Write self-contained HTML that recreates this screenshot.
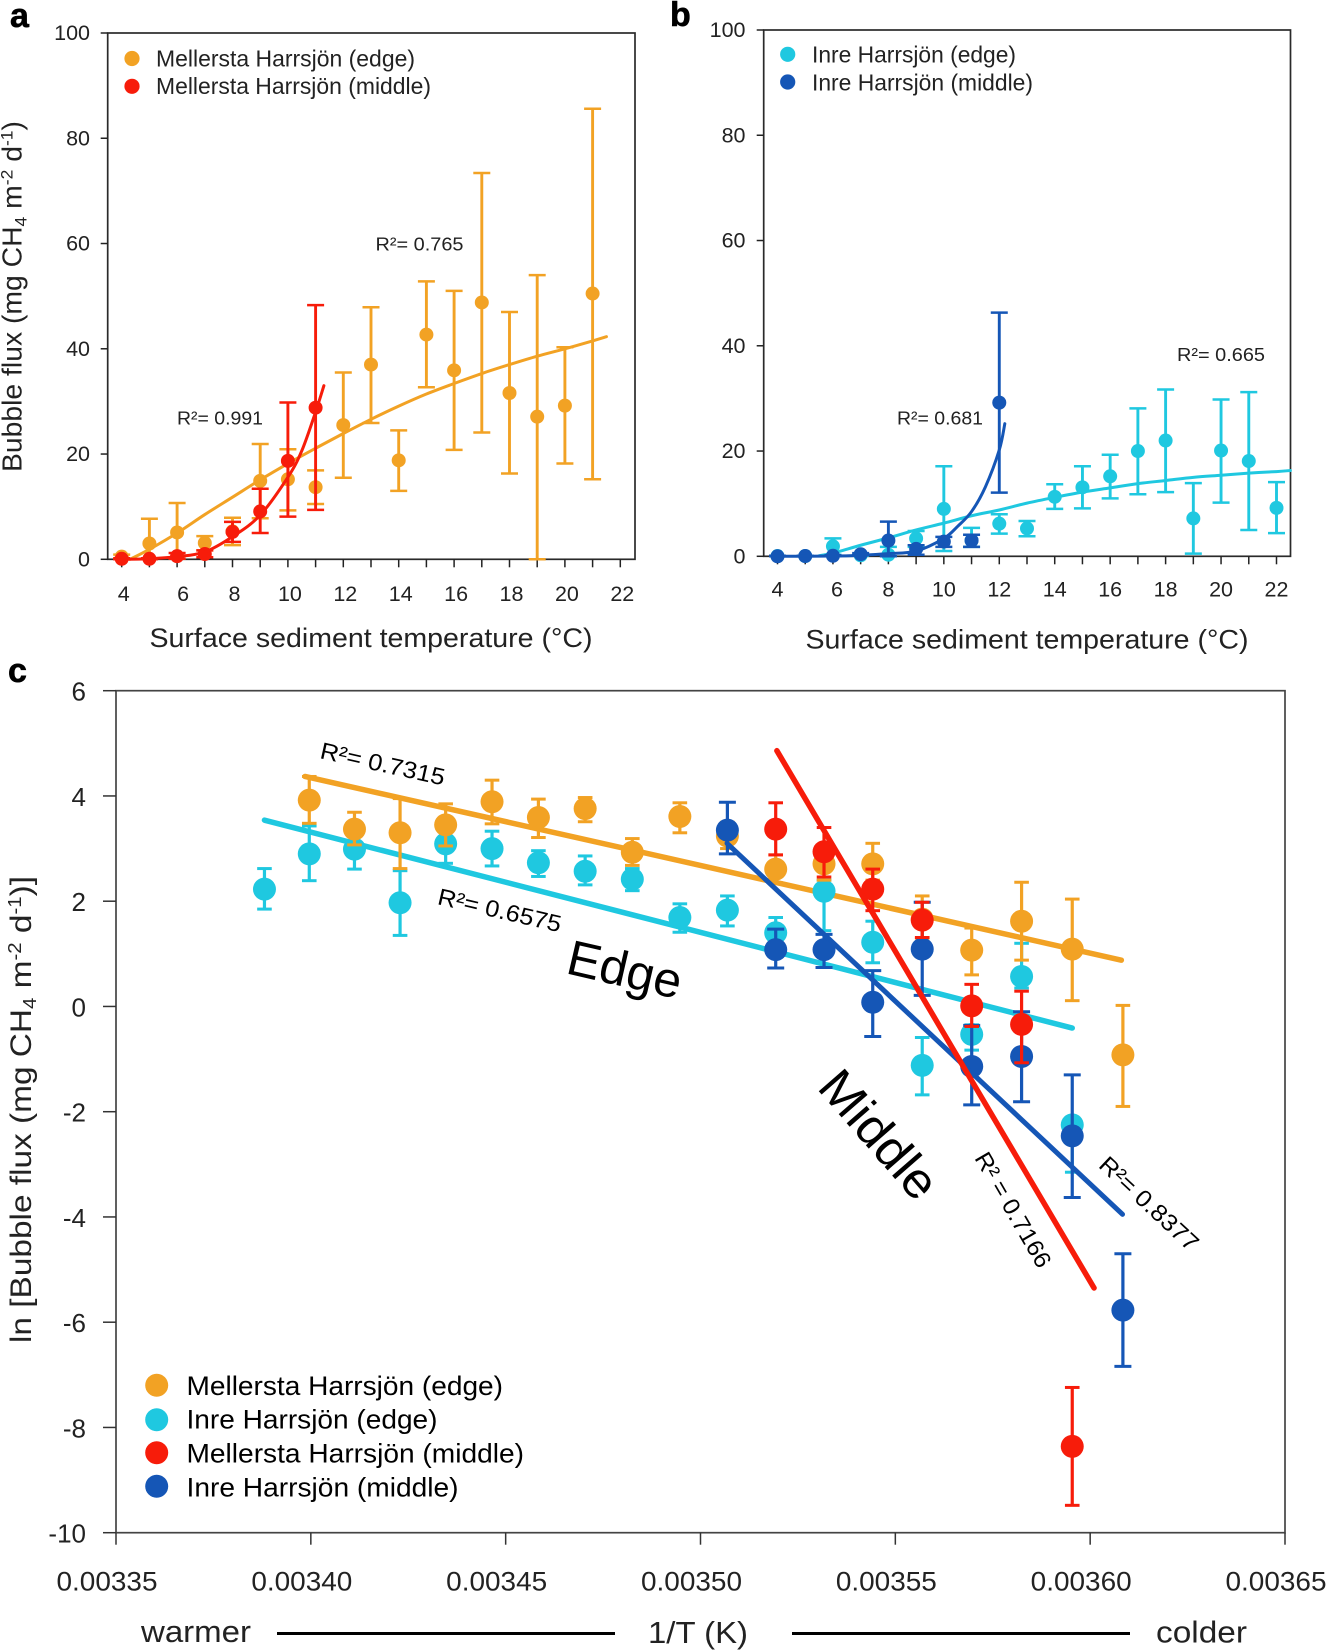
<!DOCTYPE html>
<html lang="en">
<head>
<meta charset="utf-8">
<title>Bubble flux versus temperature</title>
<style>
html,body{margin:0;padding:0;background:#fff;}
svg{display:block;}
text{font-family:"Liberation Sans",Arial,sans-serif;fill:#222;}
</style>
</head>
<body>
<svg id="figure" xmlns="http://www.w3.org/2000/svg" width="1326" height="1652" viewBox="0 0 1326 1652">
<rect x="0" y="0" width="1326" height="1652" fill="#fff"/>

<text x="10" y="27" font-size="34" font-weight="bold" stroke="#000" stroke-width="0.6" style="fill:#000">a</text>
<text x="670" y="26" font-size="34" font-weight="bold" stroke="#000" stroke-width="0.6" style="fill:#000">b</text>
<text x="8" y="682" font-size="34" font-weight="bold" stroke="#000" stroke-width="0.6" style="fill:#000">c</text>

<g id="panel-a"></g>
<g id="panel-b"></g>
<g id="panel-c"></g>

<!-- panel a text -->
<text transform="translate(21.5,472) rotate(-90)" font-size="27.5" textLength="351" lengthAdjust="spacingAndGlyphs">Bubble flux (mg CH<tspan font-size="17" dy="5">4</tspan><tspan dy="-5"> m</tspan><tspan font-size="17" dy="-9">-2</tspan><tspan dy="9"> d</tspan><tspan font-size="17" dy="-9">-1</tspan><tspan dy="9">)</tspan></text>
<text x="149.5" y="647" font-size="27" textLength="443" lengthAdjust="spacingAndGlyphs">Surface sediment temperature (°C)</text>
<circle cx="132" cy="58.5" r="7.6" fill="#F2A224"/>
<circle cx="132" cy="86.3" r="7.6" fill="#F71C0A"/>
<text x="156" y="66.7" font-size="23" textLength="259" lengthAdjust="spacingAndGlyphs">Mellersta Harrsjön (edge)</text>
<text x="156" y="94" font-size="23" textLength="275" lengthAdjust="spacingAndGlyphs">Mellersta Harrsjön (middle)</text>
<text x="375.5" y="250.5" font-size="18.5" textLength="88" lengthAdjust="spacingAndGlyphs">R²= 0.765</text>
<text x="177" y="424.5" font-size="18.5" textLength="86" lengthAdjust="spacingAndGlyphs">R²= 0.991</text>

<!-- panel b text -->
<text x="805.5" y="648.5" font-size="27" textLength="443" lengthAdjust="spacingAndGlyphs">Surface sediment temperature (°C)</text>
<circle cx="787.7" cy="54.3" r="7.6" fill="#1FC8E0"/>
<circle cx="787.7" cy="82" r="7.6" fill="#1556B6"/>
<text x="812" y="62.7" font-size="23" textLength="204" lengthAdjust="spacingAndGlyphs">Inre Harrsjön (edge)</text>
<text x="812" y="90.3" font-size="23" textLength="221" lengthAdjust="spacingAndGlyphs">Inre Harrsjön (middle)</text>
<text x="1177" y="361" font-size="18.5" textLength="88" lengthAdjust="spacingAndGlyphs">R²= 0.665</text>
<text x="897" y="424.5" font-size="18.5" textLength="86" lengthAdjust="spacingAndGlyphs">R²= 0.681</text>

<!-- panel c text -->
<text transform="translate(31,1343) rotate(-90)" font-size="29.5" textLength="467" lengthAdjust="spacingAndGlyphs">ln [Bubble flux (mg CH<tspan font-size="18" dy="5">4</tspan><tspan dy="-5"> m</tspan><tspan font-size="18" dy="-10">-2</tspan><tspan dy="10"> d</tspan><tspan font-size="18" dy="-10">-1</tspan><tspan dy="10">)]</tspan></text>
<text x="141" y="1642" font-size="31" textLength="110" lengthAdjust="spacingAndGlyphs">warmer</text>
<line x1="277" y1="1633.5" x2="615" y2="1633.5" stroke="#000" stroke-width="3"/>
<text x="648" y="1643" font-size="31" textLength="100" lengthAdjust="spacingAndGlyphs">1/T (K)</text>
<line x1="792" y1="1633.5" x2="1130" y2="1633.5" stroke="#000" stroke-width="3"/>
<text x="1156" y="1642.5" font-size="31" textLength="91" lengthAdjust="spacingAndGlyphs">colder</text>

<circle cx="156.7" cy="1385.3" r="11.5" fill="#F2A224"/>
<circle cx="156.7" cy="1419.7" r="11.5" fill="#1FC8E0"/>
<circle cx="156.7" cy="1452.7" r="11.5" fill="#F71C0A"/>
<circle cx="156.7" cy="1486.3" r="11.5" fill="#1556B6"/>
<text x="186.5" y="1395" font-size="27" textLength="316.5" lengthAdjust="spacingAndGlyphs" style="fill:#000">Mellersta Harrsjön (edge)</text>
<text x="186.5" y="1428.5" font-size="27" textLength="251" lengthAdjust="spacingAndGlyphs" style="fill:#000">Inre Harrsjön (edge)</text>
<text x="186.5" y="1462.5" font-size="27" textLength="337.5" lengthAdjust="spacingAndGlyphs" style="fill:#000">Mellersta Harrsjön (middle)</text>
<text x="186.5" y="1496.5" font-size="27" textLength="272" lengthAdjust="spacingAndGlyphs" style="fill:#000">Inre Harrsjön (middle)</text>

<text transform="translate(319,758) rotate(12.5)" font-size="23.5" textLength="127" lengthAdjust="spacingAndGlyphs" style="fill:#000">R²= 0.7315</text>
<text transform="translate(436.5,904) rotate(13)" font-size="23.5" textLength="126" lengthAdjust="spacingAndGlyphs" style="fill:#000">R²= 0.6575</text>
<text transform="translate(564.5,973) rotate(13)" font-size="49.5" textLength="116" lengthAdjust="spacingAndGlyphs" style="fill:#000">Edge</text>
<text transform="translate(816,1088) rotate(49)" font-size="50" textLength="153" lengthAdjust="spacingAndGlyphs" style="fill:#000">Middle</text>
<text transform="translate(974,1158) rotate(60)" font-size="23.5" textLength="129" lengthAdjust="spacingAndGlyphs" style="fill:#000">R² = 0.7166</text>
<text transform="translate(1097.5,1166.5) rotate(43)" font-size="23.5" textLength="126" lengthAdjust="spacingAndGlyphs" style="fill:#000">R²= 0.8377</text>
</svg>

<script>
/* ---------- Panel a data ---------- */
const aEdgeTemps = [4,5,6,7,8,9,10,11,12,13,14,15,16,17,18,19,20,21];
const aEdgeMean  = [0.5,3.0,5.1,3.1,5.3,14.9,15.2,13.7,25.5,37,18.8,42.7,35.9,48.8,31.6,27.1,29.2,50.5];
const aEdgeHigh  = [0.9,7.7,10.7,4.4,7.9,21.9,20.9,16.9,35.5,47.9,24.5,52.8,51,73.4,47,54,40.3,85.6];
const aEdgeLow   = [0.1,0.2,0.1,1.7,2.7,7.8,9.3,10.5,15.5,25.9,13,32.7,20.8,24.1,16.3,0,18.2,15.2];
const aMiddleTemps = [4,5,6,7,8,9,10,11];
const aMiddleMean  = [0.1,0.1,0.6,1.0,5.2,9.1,18.7,28.8];
const aMiddleHigh  = [0.2,0.2,1.2,1.7,7.1,13.4,29.8,48.3];
const aMiddleLow   = [0,0,0.1,0.4,3.3,5,8.1,9.4];
const aEdgeTrendTemps = [4.3,5,6,7,8,9,10,11,12,13,14,15,16,17,18,19,20,21,21.5];
const aEdgeTrendFlux  = [0,1.9,5,8.5,11.8,15.1,18.2,21.1,23.9,26.6,29.1,31.4,33.4,35.3,37,38.6,40,41.5,42.3];
const aMiddleTrendTemps = [4,5,6,7,8,9,10,10.5,11,11.3];
const aMiddleTrendFlux  = [0,0.1,0.5,1.4,4.3,8.4,15.6,20.6,28,33];

/* ---------- Panel b data ---------- */
const bEdgeTemps = [4,5,6,7,8,9,10,11,12,13,14,15,16,17,18,19,20,21,22];
const bEdgeMean  = [0.05,0.05,1.9,0.2,0.3,3.4,9,3,6.2,5.3,11.3,13.1,15.2,20,22,7.2,20.1,18.1,9.2];
const bEdgeHigh  = [0.1,0.1,3.4,0.3,1.8,4.8,17.1,5.4,8,6.7,13.7,17.1,19.3,28.1,31.7,13.9,29.8,31.2,14.1];
const bEdgeLow   = [0,0,0.3,0.1,0,1.8,1,1.8,4.3,3.8,9,9.1,11,11.8,12.2,0.5,10.2,5,4.4];
const bMiddleTemps = [4,5,6,7,8,9,10,11,12];
const bMiddleMean  = [0,0.05,0.1,0.4,3,1.4,2.8,3,29.2];
const bMiddleHigh  = [0.1,0.1,0.2,0.6,6.6,2.1,3.7,4.1,46.3];
const bMiddleLow   = [0,0,0,0.2,0,0.3,1.8,1.8,12.1];
const bEdgeTrendTemps = [5.5,6,7,8,9,10,11,12,13,14,15,16,17,18,19,20,21,22,22.5];
const bEdgeTrendFlux  = [0.1,0.6,2.1,3.5,5,6.3,7.7,8.8,10.1,11.2,12.2,13,13.8,14.4,15,15.4,15.8,16.1,16.3];
const bMiddleTrendTemps = [4,6,7,8,9,10,10.5,11,11.5,12,12.2];
const bMiddleTrendFlux  = [0,0.05,0.2,0.5,1,3.4,5.7,8.5,13.2,20.2,25.2];

/* ---------- Panels a/b axes ---------- */
const abXMinorTicks = [4,5,6,7,8,9,10,11,12,13,14,15,16,17,18,19,20,21,22];
const abXTickLabels = [4,6,8,10,12,14,16,18,20,22];
const abYTickLabels = [0,20,40,60,80,100];

/* ---------- Panel c data (1/T in K^-1, ln flux) ---------- */
const cInreEdgeInvT = [0.0033881,0.0033996,0.0034112,0.0034229,0.0034346,0.0034465,0.0034584,0.0034704,0.0034825,0.0034947,0.0035069,0.0035193,0.0035317,0.0035442,0.0035569,0.0035696,0.0035824,0.0035954];
const cInreEdgeMean = [2.23,2.90,2.99,1.97,3.09,3.00,2.73,2.57,2.42,1.69,1.83,1.40,2.19,1.22,-1.12,-0.53,0.57,-2.25];
const cInreEdgeHigh = [2.62,3.43,3.3,2.58,3.45,3.33,2.96,2.86,2.62,1.95,2.10,1.69,2.40,1.62,-0.59,-0.35,1.20,-2.25];
const cInreEdgeLow  = [1.85,2.39,2.61,1.35,2.72,2.67,2.47,2.31,2.20,1.41,1.53,1.10,1.44,0.83,-1.68,-0.83,0.35,-3.15];
const cMellerstaEdgeInvT = [0.0033996,0.0034112,0.0034229,0.0034346,0.0034465,0.0034584,0.0034704,0.0034825,0.0034947,0.0035069,0.0035193,0.0035317,0.0035442,0.0035569,0.0035696,0.0035824,0.0035954,0.0036084];
const cMellerstaEdgeMean = [3.92,3.37,3.30,3.45,3.89,3.59,3.76,2.93,3.61,3.24,2.61,2.71,2.71,1.66,1.07,1.62,1.09,-0.92];
const cMellerstaEdgeHigh = [4.37,3.69,3.95,3.85,4.30,3.94,3.97,3.19,3.87,3.5,2.88,3.0,3.10,2.10,1.49,2.36,2.04,0.02];
const cMellerstaEdgeLow  = [3.48,3.07,2.62,3.05,3.47,3.21,3.51,2.68,3.30,3.0,2.35,2.40,2.40,1.30,0.60,0.88,0.11,-1.90];
const cInreMiddleInvT = [0.0035069,0.0035193,0.0035317,0.0035442,0.0035569,0.0035696,0.0035824,0.0035954,0.0036084];
const cInreMiddleMean = [3.35,1.08,1.08,0.08,1.09,-1.14,-0.95,-2.46,-5.77];
const cInreMiddleHigh = [3.88,1.47,1.37,0.68,1.98,-0.36,-0.10,-1.30,-4.70];
const cInreMiddleLow  = [2.90,0.73,0.74,-0.57,0.21,-1.87,-1.81,-3.63,-6.84];
const cMellerstaMiddleInvT = [0.0035193,0.0035317,0.0035442,0.0035569,0.0035696,0.0035824,0.0035954];
const cMellerstaMiddleMean = [3.37,2.94,2.23,1.64,0.01,-0.34,-8.36];
const cMellerstaMiddleHigh = [3.87,3.40,2.61,1.98,0.42,0.29,-7.24];
const cMellerstaMiddleLow  = [2.88,2.46,1.82,1.31,-0.38,-1.07,-9.48];
const cMellerstaEdgeFitInvT = [0.0033985,0.003608];
const cMellerstaEdgeFitLn   = [4.37,0.88];
const cInreEdgeFitInvT = [0.0033881,0.0035954];
const cInreEdgeFitLn   = [3.54,-0.41];
const cInreMiddleFitInvT = [0.0035068,0.0036083];
const cInreMiddleFitLn   = [3.10,-3.95];
const cMellerstaMiddleFitInvT = [0.0035196,0.003601];
const cMellerstaMiddleFitLn   = [4.86,-5.35];
const cXTickLabels = [0.00335,0.0034,0.00345,0.0035,0.00355,0.0036,0.00365];
const cYTickLabels = [6,4,2,0,-2,-4,-6,-8,-10];

const ORANGE = '#F2A224', CYAN = '#1FC8E0', RED = '#F71C0A', NAVY = '#1556B6';
const NS = 'http://www.w3.org/2000/svg';

function make(parent, tag, attrs) {
  const node = document.createElementNS(NS, tag);
  for (const k in attrs) node.setAttribute(k, attrs[k]);
  parent.appendChild(node);
  return node;
}

function linearScale(d0, d1, r0, r1) {
  return v => r0 + (v - d0) / (d1 - d0) * (r1 - r0);
}

function smoothPath(pts) {
  let d = 'M' + pts[0][0].toFixed(2) + ' ' + pts[0][1].toFixed(2);
  for (let i = 0; i < pts.length - 1; i++) {
    const p0 = pts[Math.max(i - 1, 0)], p1 = pts[i], p2 = pts[i + 1], p3 = pts[Math.min(i + 2, pts.length - 1)];
    const c1x = p1[0] + (p2[0] - p0[0]) / 6, c1y = p1[1] + (p2[1] - p0[1]) / 6;
    const c2x = p2[0] - (p3[0] - p1[0]) / 6, c2y = p2[1] - (p3[1] - p1[1]) / 6;
    d += 'C' + c1x.toFixed(2) + ' ' + c1y.toFixed(2) + ' ' + c2x.toFixed(2) + ' ' + c2y.toFixed(2) + ' ' + p2[0].toFixed(2) + ' ' + p2[1].toFixed(2);
  }
  return d;
}

function drawTrend(parent, xs, ys, xf, yf, color, width, name) {
  const pts = xs.map((x, i) => [xf(x), yf(ys[i])]);
  const p = make(parent, 'path', {d: smoothPath(pts), fill: 'none', stroke: color, 'stroke-width': width, 'stroke-linecap': 'round'});
  
  
}

function drawSeries(parent, xs, mean, high, low, xf, yf, color, style, name) {
  const group = make(parent, 'g', {});
  
  
  xs.forEach((x, i) => {
    const px = xf(x), top = yf(high[i]), bot = yf(low[i]);
    const stem = make(group, 'line', {x1: px, x2: px, y1: top, y2: bot, stroke: color, 'stroke-width': style.stem});
    
    
    const capTop = make(group, 'line', {x1: px - style.cap, x2: px + style.cap, y1: top, y2: top, stroke: color, 'stroke-width': style.capWidth});
    
    
    const capBot = make(group, 'line', {x1: px - style.cap, x2: px + style.cap, y1: bot, y2: bot, stroke: color, 'stroke-width': style.capWidth});
    
    
    const dot = make(group, 'circle', {cx: px, cy: yf(mean[i]), r: style.r, fill: color});
    
    
  });
}

function drawSmallAxes(parent, box, xf, yf, labelDx, labelBase, yLabelRight) {
  const frame = make(parent, 'rect', {x: box.l, y: box.t, width: box.r - box.l, height: box.b - box.t, fill: 'none', stroke: '#2a2a2a', 'stroke-width': 1.7});
  
  
  abXMinorTicks.forEach(t => {
    const tick = make(parent, 'line', {x1: xf(t), x2: xf(t), y1: box.b, y2: box.b + 8, stroke: '#222', 'stroke-width': 1.5});
    
    
  });
  abXTickLabels.forEach(t => {
    const label = make(parent, 'text', {x: xf(t) + labelDx + (t === 6 ? 4 : 0), y: labelBase, 'font-size': 21.5, 'text-anchor': 'middle'});
    label.textContent = String(t);
    
    
  });
  abYTickLabels.forEach(v => {
    const tick = make(parent, 'line', {x1: box.l - 7, x2: box.l, y1: yf(v), y2: yf(v), stroke: '#222', 'stroke-width': 1.5});
    
    
    const label = make(parent, 'text', {x: yLabelRight, y: yf(v) + 7, 'font-size': 21.5, 'text-anchor': 'end'});
    label.textContent = String(v);
    
    
  });
}

const smallStyle = {r: 7, stem: 2.9, cap: 8.5, capWidth: 2.5};

/* Panel a */
(function () {
  const g = document.getElementById('panel-a');
  const box = {l: 107.7, r: 635, t: 33, b: 559.3};
  const xf = linearScale(4, 22, 121.7, 620.3);
  const yf = linearScale(0, 100, 559.3, 33);
  drawSmallAxes(g, box, xf, yf, 2, 601, 90);
  drawTrend(g, aEdgeTrendTemps, aEdgeTrendFlux, xf, yf, ORANGE, 3, 'edge-trend-curve');
  drawSeries(g, aEdgeTemps, aEdgeMean, aEdgeHigh, aEdgeLow, xf, yf, ORANGE, smallStyle, 'mellersta-edge-series');
  drawSeries(g, aMiddleTemps, aMiddleMean, aMiddleHigh, aMiddleLow, xf, yf, RED, smallStyle, 'mellersta-middle-series');
  drawTrend(g, aMiddleTrendTemps, aMiddleTrendFlux, xf, yf, RED, 3, 'middle-trend-curve');
})();

/* Panel b */
(function () {
  const g = document.getElementById('panel-b');
  const box = {l: 763.7, r: 1290.5, t: 30, b: 556.3};
  const xf = linearScale(4, 22, 777.5, 1276.5);
  const yf = linearScale(0, 100, 556.3, 30);
  drawSmallAxes(g, box, xf, yf, 0, 596.5, 745.5);
  drawTrend(g, bEdgeTrendTemps, bEdgeTrendFlux, xf, yf, CYAN, 3, 'edge-trend-curve');
  drawSeries(g, bEdgeTemps, bEdgeMean, bEdgeHigh, bEdgeLow, xf, yf, CYAN, smallStyle, 'inre-edge-series');
  drawSeries(g, bMiddleTemps, bMiddleMean, bMiddleHigh, bMiddleLow, xf, yf, NAVY, smallStyle, 'inre-middle-series');
  drawTrend(g, bMiddleTrendTemps, bMiddleTrendFlux, xf, yf, NAVY, 3, 'middle-trend-curve');
})();

/* Panel c */
(function () {
  const g = document.getElementById('panel-c');
  const box = {l: 116, r: 1285, t: 690.7, b: 1532.7};
  const xf = linearScale(0.00335, 0.00365, box.l, box.r);
  const yf = linearScale(6, -10, box.t, box.b);
  const frame = make(g, 'rect', {x: box.l, y: box.t, width: box.r - box.l, height: box.b - box.t, fill: 'none', stroke: '#444', 'stroke-width': 1.7});
  
  
  cXTickLabels.forEach(v => {
    const tick = make(g, 'line', {x1: xf(v), x2: xf(v), y1: box.b, y2: box.b + 12, stroke: '#333', 'stroke-width': 1.5});
    
    
    const label = make(g, 'text', {x: xf(v) - 9, y: 1590.5, 'font-size': 27, 'text-anchor': 'middle', textLength: 101, lengthAdjust: 'spacingAndGlyphs'});
    label.textContent = v.toFixed(5);
    
    
  });
  cYTickLabels.forEach(v => {
    const tick = make(g, 'line', {x1: box.l - 13, x2: box.l, y1: yf(v), y2: yf(v), stroke: '#333', 'stroke-width': 1.5});
    
    
    const label = make(g, 'text', {x: 86, y: yf(v) + 10, 'font-size': 26, 'text-anchor': 'end'});
    label.textContent = String(v);
    
    
  });
  const big = {r: 11.5, stem: 3.2, cap: 7.3, capWidth: 3};
  const bigNavy = {r: 11.5, stem: 3.2, cap: 8.5, capWidth: 3};
  drawTrend(g, cInreEdgeFitInvT, cInreEdgeFitLn, xf, yf, CYAN, 5.5, 'inre-edge-fit-line');
  drawTrend(g, cMellerstaEdgeFitInvT, cMellerstaEdgeFitLn, xf, yf, ORANGE, 5.5, 'mellersta-edge-fit-line');
  drawSeries(g, cInreEdgeInvT, cInreEdgeMean, cInreEdgeHigh, cInreEdgeLow, xf, yf, CYAN, big, 'inre-edge-series');
  drawSeries(g, cMellerstaEdgeInvT, cMellerstaEdgeMean, cMellerstaEdgeHigh, cMellerstaEdgeLow, xf, yf, ORANGE, big, 'mellersta-edge-series');
  drawSeries(g, cInreMiddleInvT, cInreMiddleMean, cInreMiddleHigh, cInreMiddleLow, xf, yf, NAVY, bigNavy, 'inre-middle-series');
  drawSeries(g, cMellerstaMiddleInvT, cMellerstaMiddleMean, cMellerstaMiddleHigh, cMellerstaMiddleLow, xf, yf, RED, big, 'mellersta-middle-series');
  drawTrend(g, cInreMiddleFitInvT, cInreMiddleFitLn, xf, yf, NAVY, 5, 'inre-middle-fit-line');
  drawTrend(g, cMellerstaMiddleFitInvT, cMellerstaMiddleFitLn, xf, yf, RED, 5.5, 'mellersta-middle-fit-line');
})();
</script>
</body>
</html>
